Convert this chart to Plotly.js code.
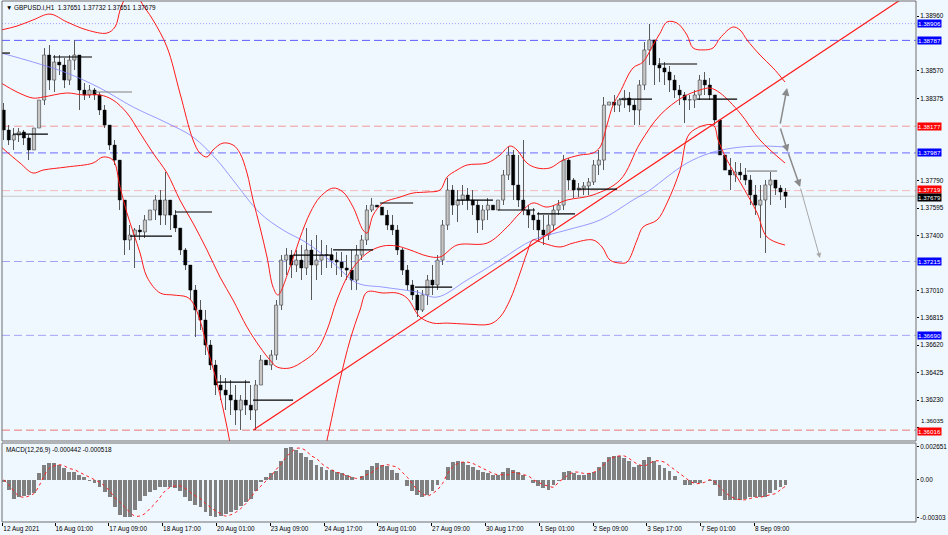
<!DOCTYPE html>
<html><head><meta charset="utf-8">
<script src="https://cdn.plot.ly/plotly-3.0.1.min.js"></script>
<style>html,body{margin:0;padding:0;background:#f0f8ff;}#chart{width:948px;height:535px;}</style>
</head><body><div id="chart"></div>
<script>
// ---------- DATA ----------
const headerText = "\u25BC GBPUSD.i,H1  1.37651 1.37732 1.37651 1.37679";
const macdLabel = "MACD(12,26,9) -0.000442 -0.000518";
const barHours = 3;               // each drawn candle groups 3 hourly bars
const firstOpen = 1.38292;

const highs = [
1.38342,1.38185,1.38164,1.38164,1.38150,1.38114,1.38164,1.38377,1.38733,1.38754,
1.38683,1.38683,1.38662,1.38683,1.38790,1.38683,1.38484,1.38470,1.38448,1.38420,
1.38327,1.38185,1.38079,1.37936,1.37652,1.37474,1.37453,1.37474,1.37545,1.37616,
1.37688,1.37723,1.37851,1.37652,1.37581,1.37453,1.37311,1.37190,1.37048,1.36941,
1.36870,1.36657,1.36514,1.36408,1.36386,1.36372,1.36337,1.36266,1.36372,1.36337,
1.36372,1.36550,1.36571,1.36586,1.36941,1.37261,1.37311,1.37297,1.37297,1.37332,
1.37453,1.37368,1.37403,1.37368,1.37332,1.37311,1.37282,1.37282,1.37261,1.37297,
1.37332,1.37403,1.37616,1.37666,1.37666,1.37616,1.37581,1.37545,1.37474,1.37311,
1.37190,1.37083,1.37012,1.37012,1.37119,1.37190,1.37261,1.37510,1.37808,1.37759,
1.37723,1.37759,1.37737,1.37723,1.37652,1.37616,1.37666,1.37652,1.37688,1.37865,
1.38029,1.38008,1.37972,1.38079,1.37616,1.37595,1.37567,1.37545,1.37545,1.37616,
1.37652,1.37972,1.37951,1.37808,1.37773,1.37780,1.37808,1.37936,1.38008,1.38384,
1.38384,1.38399,1.38377,1.38434,1.38420,1.38363,1.38505,1.38775,1.38906,1.38719,
1.38662,1.38633,1.38605,1.38541,1.38470,1.38420,1.38399,1.38434,1.38541,1.38562,
1.38519,1.38399,1.38235,1.38008,1.37951,1.37922,1.37915,1.37880,1.37830,1.37759,
1.37759,1.37794,1.37851,1.37794,1.37759,1.37737];
const lows = [
1.38079,1.38043,1.38008,1.38064,1.38043,1.37936,1.37915,1.38150,1.38327,1.38434,
1.38420,1.38541,1.38448,1.38470,1.38576,1.38292,1.38363,1.38377,1.38363,1.38256,
1.38164,1.38008,1.37901,1.37581,1.37261,1.37297,1.37169,1.37368,1.37382,1.37439,
1.37510,1.37474,1.37474,1.37439,1.37425,1.37261,1.37154,1.36941,1.36678,1.36728,
1.36550,1.36443,1.36266,1.36230,1.36159,1.36123,1.36052,1.36016,1.36123,1.36088,
1.36016,1.36337,1.36351,1.36443,1.36514,1.36870,1.37119,1.37097,1.37140,1.37083,
1.37119,1.36941,1.37083,1.37119,1.37169,1.37169,1.37119,1.37105,1.37083,1.37012,
1.37012,1.37225,1.37332,1.37567,1.37581,1.37474,1.37439,1.37403,1.37261,1.37119,
1.37012,1.36941,1.36820,1.36856,1.36905,1.36977,1.37012,1.37190,1.37439,1.37545,
1.37496,1.37616,1.37581,1.37545,1.37417,1.37439,1.37510,1.37524,1.37545,1.37616,
1.37794,1.37652,1.37602,1.37545,1.37453,1.37439,1.37353,1.37332,1.37368,1.37439,
1.37545,1.37581,1.37723,1.37666,1.37673,1.37688,1.37688,1.37759,1.37830,1.37865,
1.38256,1.38278,1.38278,1.38306,1.38278,1.38185,1.38185,1.38434,1.38612,1.38470,
1.38491,1.38470,1.38420,1.38377,1.38327,1.38200,1.38292,1.38306,1.38363,1.38399,
1.38363,1.38185,1.37936,1.37688,1.37723,1.37780,1.37794,1.37759,1.37616,1.37545,
1.37382,1.37275,1.37616,1.37688,1.37652,1.37595];
const closes = [
1.38150,1.38079,1.38114,1.38136,1.38093,1.38008,1.38164,1.38363,1.38683,1.38505,
1.38633,1.38612,1.38505,1.38647,1.38683,1.38434,1.38399,1.38434,1.38399,1.38292,
1.38185,1.38043,1.37936,1.37652,1.37368,1.37403,1.37439,1.37425,1.37510,1.37581,
1.37652,1.37545,1.37652,1.37545,1.37453,1.37297,1.37190,1.37012,1.36870,1.36799,
1.36621,1.36479,1.36337,1.36301,1.36266,1.36230,1.36159,1.36230,1.36194,1.36159,
1.36337,1.36514,1.36479,1.36550,1.36905,1.37225,1.37261,1.37190,1.37225,1.37169,
1.37297,1.37190,1.37225,1.37261,1.37261,1.37225,1.37211,1.37169,1.37154,1.37083,
1.37261,1.37368,1.37581,1.37616,1.37602,1.37545,1.37474,1.37439,1.37297,1.37154,
1.37048,1.36977,1.36870,1.36977,1.37083,1.37048,1.37225,1.37474,1.37723,1.37616,
1.37652,1.37688,1.37652,1.37616,1.37510,1.37581,1.37616,1.37581,1.37652,1.37830,
1.37972,1.37759,1.37652,1.37581,1.37545,1.37510,1.37439,1.37403,1.37474,1.37581,
1.37616,1.37936,1.37794,1.37723,1.37737,1.37752,1.37780,1.37901,1.37936,1.38327,
1.38349,1.38327,1.38363,1.38377,1.38327,1.38292,1.38470,1.38719,1.38790,1.38612,
1.38591,1.38562,1.38505,1.38434,1.38399,1.38363,1.38363,1.38399,1.38505,1.38470,
1.38399,1.38221,1.37972,1.37865,1.37830,1.37851,1.37830,1.37794,1.37688,1.37616,
1.37652,1.37759,1.37794,1.37737,1.37709,1.37679];

const macdMain = [
-0.0002,-0.0008,-0.0015,-0.0014,-0.0013,-0.0012,-0.0011,0.0005,0.0012,0.0013,
0.0013,0.0012,0.0009,0.0006,0.0006,0.0004,0.0002,-0.0001,-0.0003,-0.0006,
-0.0010,-0.0014,-0.0022,-0.0028,-0.0030,-0.0030,-0.0024,-0.0017,-0.0013,-0.0010,
-0.0008,-0.0006,-0.0006,-0.0006,-0.0007,-0.0009,-0.0014,-0.0017,-0.0020,-0.0022,
-0.0026,-0.0029,-0.0030,-0.0029,-0.0027,-0.0026,-0.0024,-0.0021,-0.0018,-0.0015,
-0.0009,-0.0002,0.0002,0.0005,0.0007,0.0015,0.0025,0.0026,0.0024,0.0021,
0.0018,0.0016,0.0012,0.0010,0.0008,0.0008,0.0006,0.0005,0.0004,0.0002,
0.0000,0.0003,0.0008,0.0011,0.0013,0.0012,0.0011,0.0008,0.0005,0.0000,
-0.0005,-0.0009,-0.0012,-0.0014,-0.0012,-0.0009,-0.0004,0.0000,0.0010,0.0014,
0.0015,0.0014,0.0012,0.0010,0.0008,0.0006,0.0005,0.0004,0.0004,0.0006,
0.0009,0.0008,0.0006,0.0004,0.0000,-0.0003,-0.0005,-0.0007,-0.0008,-0.0004,
-0.0001,0.0006,0.0007,0.0005,0.0004,0.0004,0.0005,0.0006,0.0010,0.0014,
0.0018,0.0019,0.0019,0.0017,0.0015,0.0010,0.0012,0.0016,0.0018,0.0015,
0.0012,0.0009,0.0007,0.0003,0.0000,-0.0004,-0.0004,-0.0003,-0.0003,0.0000,
-0.0001,-0.0004,-0.0013,-0.0016,-0.0016,-0.0016,-0.0016,-0.0015,-0.0014,-0.0014,
-0.0014,-0.0014,-0.0011,-0.0008,-0.0006,-0.000442];
const macdSignal = [
0.0000,-0.0004,-0.0009,-0.0013,-0.0014,-0.0013,-0.0011,-0.0005,0.0003,0.0009,
0.0011,0.0012,0.0011,0.0009,0.0008,0.0006,0.0004,0.0002,0.0000,-0.0002,
-0.0005,-0.0009,-0.0014,-0.0018,-0.0022,-0.0026,-0.0029,-0.0029,-0.0027,-0.0023,
-0.0019,-0.0014,-0.0009,-0.0006,-0.0005,-0.0005,-0.0007,-0.0010,-0.0013,-0.0015,
-0.0019,-0.0022,-0.0025,-0.0027,-0.0029,-0.0028,-0.0026,-0.0023,-0.0019,-0.0014,
-0.0009,-0.0005,-0.0001,0.0003,0.0008,0.0013,0.0018,0.0022,0.0025,0.0025,
0.0023,0.0019,0.0017,0.0013,0.0010,0.0008,0.0006,0.0005,0.0003,0.0002,
0.0001,0.0002,0.0004,0.0006,0.0009,0.0011,0.0012,0.0011,0.0010,0.0006,
0.0002,-0.0003,-0.0008,-0.0011,-0.0013,-0.0011,-0.0008,-0.0003,0.0005,0.0010,
0.0013,0.0014,0.0014,0.0013,0.0011,0.0009,0.0007,0.0005,0.0004,0.0004,
0.0004,0.0006,0.0005,0.0004,0.0003,0.0000,-0.0002,-0.0004,-0.0005,-0.0006,
-0.0002,0.0001,0.0004,0.0006,0.0006,0.0005,0.0005,0.0006,0.0008,0.0012,
0.0016,0.0018,0.0019,0.0019,0.0017,0.0014,0.0012,0.0011,0.0013,0.0015,
0.0015,0.0014,0.0011,0.0008,0.0005,0.0002,-0.0001,-0.0003,-0.0003,-0.0002,
0.0000,-0.0002,-0.0006,-0.0010,-0.0013,-0.0015,-0.0016,-0.0016,-0.0015,-0.0014,
-0.0014,-0.0013,-0.0012,-0.0011,-0.0008,-0.000518];

// Bollinger bands (hours since start, price)
const bbUpperT = [0,9.4,18.9,29.0,39.1,51.0,62.9,67.7,70.7,73.0,76.6,79.6,82.6,90.3,98.6,106.3,114.1,118.2,122.4,126.0,131.9,137.9,142.0,146.2,149.8,153.9,158.1,161.7,164.6,171.8,177.7,183.7,189.6,197.4,203.3,209.3,215.2,217.6,221.2,227.1,237.2,245.0,253.3,261.0,265.2,271.1,277.1,289.0,296.7,302.6,306.8,312.7,318.7,326.4,334.2,344.3,352.0,356.2,360.3,363.9,368.1,375.8,381.7,387.7,391.9,396.0,402.0,407.9,411.5,417.4,423.4,427.6,435.3,439.4,443.6,451.3,459.1,466.2];
const bbUpperP = [1.38861,1.38889,1.38932,1.38974,1.38918,1.38861,1.38839,1.38882,1.39003,1.39074,1.39181,1.39181,1.39074,1.38932,1.38740,1.38413,1.38079,1.37986,1.37958,1.38008,1.38057,1.38043,1.37986,1.37844,1.37652,1.37460,1.37247,1.37033,1.36977,1.37176,1.37382,1.37560,1.37673,1.37737,1.37709,1.37602,1.37439,1.37417,1.37545,1.37631,1.37673,1.37702,1.37709,1.37723,1.37816,1.37865,1.37901,1.37915,1.37972,1.38036,1.38008,1.37915,1.37880,1.37880,1.37936,1.37972,1.37986,1.38029,1.38185,1.38327,1.38420,1.38591,1.38633,1.38754,1.38839,1.38918,1.38910,1.38825,1.38733,1.38719,1.38733,1.38804,1.38882,1.38861,1.38790,1.38683,1.38591,1.38491];
const bbMidT = [0,9.4,18.9,24.9,39.1,48.7,58.8,66.5,74.8,82.6,90.3,98.6,106.3,114.1,122.4,130.1,137.9,146.2,153.9,159.9,164.1,171.8,180.7,187.9,193.8,199.7,207.5,217.6,227.1,235.4,243.2,253.3,261.0,271.1,289.0,300.9,308.6,316.3,324.6,336.5,352.0,368.1,380.0,391.9,405.5,415.6,421.6,427.6,439.4,451.3,466.2];
const bbMidP = [1.38484,1.38420,1.38377,1.38384,1.38413,1.38399,1.38399,1.38363,1.38271,1.38128,1.37986,1.37844,1.37652,1.37488,1.37297,1.37105,1.36941,1.36749,1.36607,1.36514,1.36465,1.36458,1.36514,1.36586,1.36728,1.36941,1.37140,1.37275,1.37325,1.37325,1.37297,1.37254,1.37247,1.37332,1.37346,1.37460,1.37560,1.37631,1.37602,1.37652,1.37688,1.37794,1.38057,1.38256,1.38384,1.38434,1.38448,1.38413,1.38271,1.38079,1.37915];
const bbLowerT = [0,11.2,18.9,24.9,39.1,54.6,60.6,66.5,70.7,74.8,82.6,86.7,94.5,102.2,110.5,114.1,118.2,122.4,128.4,134.3,139.1,148.0,159.9,171.8,183.7,189.6,193.8,201.5,207.5,213.4,217.6,227.1,235.4,241.4,249.1,256.9,265.2,277.1,290.7,296.7,302.6,308.6,312.7,316.3,322.3,332.4,340.1,352.0,357.4,362.1,368.1,372.2,378.2,381.7,390.1,396.0,403.8,409.7,423.4,426.4,431.7,441.2,449.6,455.5,466.2];
const bbLowerP = [1.38029,1.37915,1.37844,1.37865,1.37887,1.37915,1.37958,1.37936,1.37744,1.37560,1.37275,1.37105,1.36991,1.36977,1.36962,1.36920,1.36799,1.36607,1.36351,1.36038,1.35732,1.35306,1.35021,1.35092,1.35448,1.35732,1.35946,1.36372,1.36657,1.36870,1.36998,1.36991,1.36991,1.36955,1.36820,1.36777,1.36777,1.36770,1.36770,1.36820,1.36941,1.37133,1.37275,1.37368,1.37346,1.37318,1.37346,1.37368,1.37318,1.37225,1.37204,1.37211,1.37368,1.37460,1.37510,1.37631,1.37865,1.38128,1.38185,1.38079,1.37936,1.37744,1.37560,1.37389,1.37332];
// slow moving average (blue)
const maT = [0,18.9,39.1,58.8,78.5,98.6,114.1,128.4,137.9,153.9,167.6,181.9,197.4,211.7,227.1,247.3,259.2,277.1,296.7,316.3,336.5,356.2,375.8,385.9,396.0,407.9,421.6,435.3,451.3,466.2];
const maP = [1.38697,1.38633,1.38555,1.38448,1.38313,1.38200,1.38100,1.37936,1.37794,1.37560,1.37439,1.37346,1.37204,1.37062,1.37033,1.36998,1.36962,1.37083,1.37225,1.37368,1.37439,1.37510,1.37652,1.37723,1.37816,1.37915,1.37986,1.38022,1.38036,1.38029];

// short black level segments (start hour, end hour, price)
const segStart = [0,7.0,30.8,55.8,76.6,103.4,128.4,149.8,173.6,197.4,225.3,246.1,271.1,295.5,318.7,342.5,368.1,390.7,413.9,443.6];
const segEnd   = [5.2,27.8,54.0,77.8,101.6,125.4,148.0,173.6,197.4,221.2,245.0,268.2,292.5,317.5,341.3,366.3,387.1,413.9,437.7,461.5];
const segLevel = [1.38697,1.38121,1.38669,1.38420,1.37396,1.37567,1.36358,1.36230,1.37261,1.37297,1.37631,1.37033,1.37652,1.37581,1.37553,1.37730,1.38370,1.38619,1.38370,1.37858];
const segGray  = [false,false,false,true,false,false,false,false,false,false,false,false,false,false,false,false,false,false,false,true];

// trend line (hour, price)
const trendT = [149.8, 544.1];
const trendP = [1.36016, 1.39149];

// projection arrows (tail hour, tail price, head hour, head price)
const arrowTail = [[463.2,1.38185],[463.2,1.38171],[467.9,1.37993],[475.2,1.37744]];
const arrowHead = [[467.4,1.38448],[467.9,1.37993],[475.2,1.37744],[487.0,1.37240]];

// horizontal levels
const levelPrices = [1.38906,1.38787,1.38177,1.37987,1.37719,1.37679,1.37215,1.36690,1.36016];
const levelColors = ['#9d9dff','#5c5cff','#f29a9a','#6a6aff','#f5b8b8','#c8c8c8','#a3a3f5','#a3a3f5','#e87777'];
const levelDash   = ['1px,2px','8px,4px','8px,4px','8px,4px','8px,4px','solid','8px,4px','8px,4px','8px,4px'];
const levelBox    = ['#0000ff','#0000ff','#ff0000','#0000ff','#ff0000','#000000','#0000ff','#0000ff','#ff0000'];
const levelShift  = [0,0,0,0,1,-1,0,0,-1];

const priceTicks = [1.38960,1.38570,1.38375,1.37790,1.37595,1.37400,1.37010,1.36815,1.36620,1.36425,1.36230,1.36035];
const lowTickNearBox = 1.36035;   // its label sits just above the red 1.36016 box
const macdTicks = [0.002651, 0, -0.00303];
const macdTickText = ['0.002651','0.00','-0.00303'];
const timeTicks = [1,32,64,96,128,160,192,224,256,288,320,352,384,416,448];
const timeLabels = ['12 Aug 2021','16 Aug 01:00','17 Aug 09:00','18 Aug 17:00','20 Aug 01:00','23 Aug 09:00','24 Aug 17:00','26 Aug 01:00','27 Aug 09:00','30 Aug 17:00','1 Sep 01:00','2 Sep 09:00','3 Sep 17:00','7 Sep 01:00','8 Sep 09:00'];

// ---------- BUILD ----------
const t = closes.map((_, i) => barHours * i + barHours / 2);
const opens = closes.map((c, i) => i === 0 ? firstOpen : closes[i - 1]);
const hi = highs.map((h, i) => Math.max(h, opens[i], closes[i]));
const lo = lows.map((l, i) => Math.min(l, opens[i], closes[i]));

// candles drawn as bars: wick (low..high) and body (open..close)
const upT = [], upBase = [], upLen = [], dnT = [], dnBase = [], dnLen = [];
closes.forEach((c, i) => {
  const o = opens[i];
  const b = Math.min(o, c), len = Math.max(Math.abs(c - o), 0.00003);
  if (c >= o) { upT.push(t[i]); upBase.push(b); upLen.push(len); }
  else { dnT.push(t[i]); dnBase.push(b); dnLen.push(len); }
});
const wickLen = hi.map((h, i) => h - lo[i]);

const segX = [], segY = [], segGX = [], segGY = [];
segStart.forEach((s, k) => {
  const tx = segGray[k] ? segGX : segX, ty = segGray[k] ? segGY : segY;
  tx.push(s, segEnd[k], null); ty.push(segLevel[k], segLevel[k], null);
});

const FONT = 'Liberation Sans, Arial, sans-serif';
const FS = 6.4;

const traces = [
  {type:'scatter', mode:'lines', x:maT, y:maP, line:{color:'#8080ff', width:0.8, shape:'spline'}, hoverinfo:'skip'},
  {type:'scatter', mode:'lines', x:bbUpperT, y:bbUpperP, line:{color:'#ff1a1a', width:1, shape:'spline'}, hoverinfo:'skip'},
  {type:'scatter', mode:'lines', x:bbMidT, y:bbMidP, line:{color:'#ff1a1a', width:1, shape:'spline'}, hoverinfo:'skip'},
  {type:'scatter', mode:'lines', x:bbLowerT, y:bbLowerP, line:{color:'#ff1a1a', width:1, shape:'spline'}, hoverinfo:'skip'},
  {type:'scatter', mode:'lines', x:trendT, y:trendP, line:{color:'#ff1a1a', width:1.2}, hoverinfo:'skip'},
  {type:'scatter', mode:'lines', x:segX, y:segY, line:{color:'#000000', width:1.2}, hoverinfo:'skip', connectgaps:false},
  {type:'scatter', mode:'lines', x:segGX, y:segGY, line:{color:'#808080', width:1.2}, hoverinfo:'skip', connectgaps:false},
  {type:'bar', x:t, base:lo, y:wickLen, width:0.55, xaxis:'x', yaxis:'y',
   marker:{color:'#5a5a5a', line:{width:0}}, hoverinfo:'skip'},
  {type:'bar', x:upT, base:upBase, y:upLen, width:1.9, xaxis:'x', yaxis:'y',
   marker:{color:'#c6c6c6', line:{color:'#404040', width:0.6}}, hoverinfo:'skip'},
  {type:'bar', x:dnT, base:dnBase, y:dnLen, width:1.9, xaxis:'x', yaxis:'y',
   marker:{color:'#000000', line:{color:'#000000', width:0.4}}, hoverinfo:'skip'},
  {type:'bar', x:t, y:macdMain, xaxis:'x', yaxis:'y2', width:2.3,
   marker:{color:'#808080', line:{width:0}}, hoverinfo:'skip'},
  {type:'scatter', mode:'lines', x:t, y:macdSignal, xaxis:'x', yaxis:'y2',
   line:{color:'#ff2020', width:1, dash:'dot', shape:'spline'}, hoverinfo:'skip'}
];

const shapes = [];
levelPrices.forEach((p, k) => {
  shapes.push({type:'line', xref:'paper', x0:0, x1:1, yref:'y', y0:p, y1:p, layer:'below',
    line:{color:levelColors[k], width:1, dash:levelDash[k]}});
});
shapes.push({type:'rect', xref:'paper', yref:'paper', x0:0, x1:1, y0:0.1555, y1:1, line:{color:'#6e6e6e', width:1}, fillcolor:'rgba(0,0,0,0)'});
shapes.push({type:'rect', xref:'paper', yref:'paper', x0:0, x1:1, y0:0, y1:0.1516, line:{color:'#6e6e6e', width:1}, fillcolor:'rgba(0,0,0,0)'});

const annotations = [];
// the tick label next to the red box is lifted a few pixels so both stay readable
annotations.push({xref:'paper', x:1, xanchor:'left', xshift:3, yref:'y', y:lowTickNearBox, yanchor:'bottom',
  yshift:1.5, text:lowTickNearBox.toFixed(5), showarrow:false, font:{family:FONT, size:6.2, color:'#000'}});
levelPrices.forEach((p, k) => {
  annotations.push({xref:'paper', x:1, xanchor:'left', xshift:1, yref:'y', y:p, yanchor:'middle',
    yshift:levelShift[k], text:p.toFixed(5), showarrow:false, bgcolor:levelBox[k], borderpad:0,
    font:{family:FONT, size:6.2, color:'#ffffff'}});
});
annotations.push({xref:'paper', x:0, xanchor:'left', xshift:2, yref:'paper', y:1, yanchor:'top', yshift:-1,
  text:headerText, showarrow:false, font:{family:FONT, size:FS, color:'#000'}});
annotations.push({xref:'paper', x:0, xanchor:'left', xshift:2, yref:'paper', y:0.1516, yanchor:'top', yshift:-1,
  text:macdLabel, showarrow:false, font:{family:FONT, size:FS, color:'#000'}});
arrowTail.forEach((tl, k) => {
  annotations.push({xref:'x', yref:'y', x:arrowHead[k][0], y:arrowHead[k][1],
    axref:'x', ayref:'y', ax:tl[0], ay:tl[1], text:'', showarrow:true,
    arrowhead:2, arrowsize:1, arrowwidth:k === 3 ? 1 : 1.5, arrowcolor:k === 3 ? '#a8a8a8' : '#8a8a8a'});
});

const layout = {
  width:948, height:535,
  margin:{l:2, r:32, t:1, b:13, pad:0},
  paper_bgcolor:'#f0f8ff', plot_bgcolor:'#f0f8ff',
  showlegend:false, hovermode:false,
  barmode:'overlay', bargap:0,
  font:{family:FONT, size:FS, color:'#000'},
  xaxis:{range:[0.48, 544.1], anchor:'y2', showgrid:false, zeroline:false, showline:false,
    tickvals:timeTicks, ticktext:timeLabels, ticks:'outside', ticklen:3, tickcolor:'#000',
    ticklabelposition:'outside right', tickfont:{family:FONT, size:FS, color:'#000'},
    fixedrange:true},
  yaxis:{domain:[0.1555, 1], range:[1.35939, 1.39067], side:'right', showgrid:false, zeroline:false,
    tickvals:priceTicks, ticktext:priceTicks.map(v => v === lowTickNearBox ? '' : v.toFixed(5)),
    ticks:'outside', ticklen:2,
    tickcolor:'#000', tickfont:{family:FONT, size:FS, color:'#000'}, fixedrange:true},
  yaxis2:{domain:[0, 0.1516], range:[-0.003376, 0.00293], side:'right', showgrid:false, zeroline:false,
    tickvals:macdTicks, ticktext:macdTickText, ticks:'outside', ticklen:2, tickcolor:'#000',
    tickfont:{family:FONT, size:FS, color:'#000'}, fixedrange:true},
  shapes:shapes,
  annotations:annotations
};

Plotly.newPlot('chart', traces, layout, {staticPlot:true, displayModeBar:false});
</script>
</body></html>
